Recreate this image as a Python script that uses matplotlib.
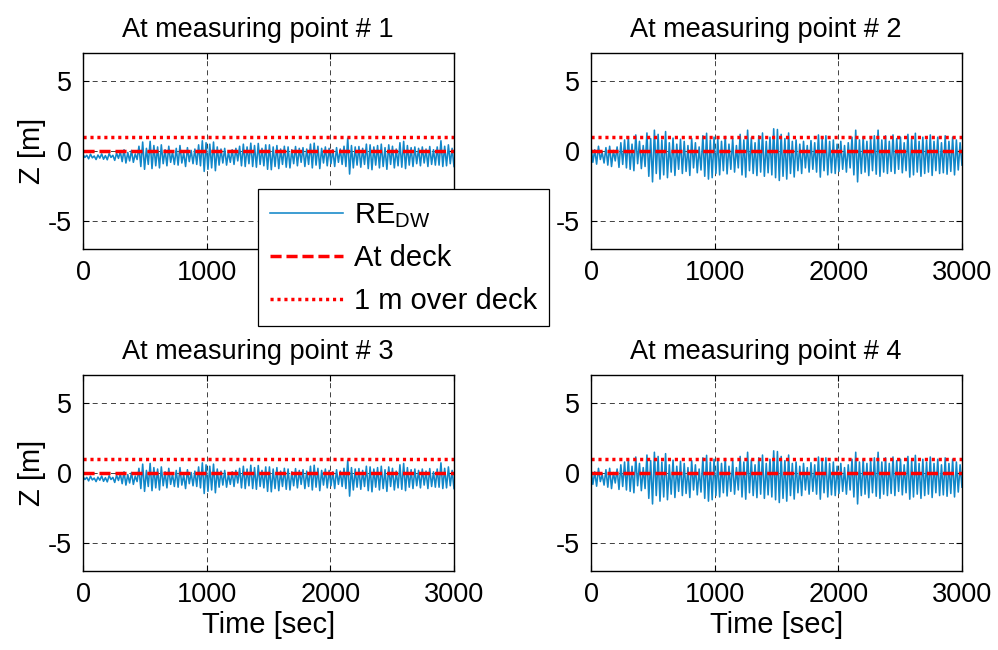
import numpy as np
import matplotlib.pyplot as plt

plt.rcParams['font.family'] = ['Liberation Sans', 'DejaVu Sans']
plt.rcParams['mathtext.fontset'] = 'custom'
plt.rcParams['mathtext.rm'] = 'Liberation Sans'
plt.rcParams['mathtext.it'] = 'Liberation Sans'
plt.rcParams['axes.unicode_minus'] = False

# relative elevation, points 1 and 3 (~15 s apart)
z_a = [
    -0.25, -0.45, -0.30, -0.55, -0.22, -0.48, -0.35, -0.60, -0.28, -0.50,
    -0.20, -0.58, -0.32, -0.62, -0.18, -0.45, -0.30, -0.66, -0.15, -0.52,
    -0.05, -0.75, 0.10, -0.85, -0.10, -0.70, 0.05, -0.80, -0.20, -0.60,
    0.35, -1.10, 0.65, -1.30, 0.20, -0.95, 0.70, -1.25, 0.40, -1.05,
    0.30, -1.20, 0.45, -0.90, 0.10, -1.05, 0.35, -0.80, -0.05, -0.95,
    0.20, -1.00, 0.40, -0.85, -0.10, -1.10, 0.25, -0.75, 0.05, -0.90,
    0.15, -0.95, 0.45, -1.05, 0.74, -1.45, 0.60, -1.30, 0.50, -1.20,
    0.65, -1.40, 0.30, -1.00, 0.15, -0.85, 0.20, -1.00, -0.05, -0.80,
    0.10, -0.95, 0.20, -0.70, 0.35, -1.05, 0.50, -1.10, 0.30, -0.90,
    0.57, -1.10, 0.40, -1.15, 0.55, -0.95, 0.20, -1.05, 0.45, -1.30,
    0.45, -1.33, 0.30, -1.10, 0.40, -1.25, 0.15, -0.95, 0.35, -1.15,
    0.30, -1.20, 0.10, -0.90, 0.33, -1.05, 0.20, -0.80, 0.25, -1.10,
    0.15, -0.95, 0.50, -1.20, 0.57, -1.00, 0.35, -1.25, 0.20, -0.85,
    0.30, -1.05, 0.20, -0.90, 0.10, -1.10, 0.25, -0.80, 0.15, -0.95,
    0.35, -1.10, 0.93, -1.64, 0.40, -1.20, 0.30, -1.00, 0.33, -1.15,
    0.20, -0.95, 0.50, -1.25, 0.45, -1.33, 0.30, -1.00, 0.40, -1.20,
    0.50, -1.10, 0.25, -1.30, 0.45, -0.95, 0.35, -1.20, 0.15, -1.05,
    0.60, -1.15, 0.70, -1.25, 0.40, -1.00, 0.25, -1.10, 0.30, -0.90,
    0.20, -1.05, 0.30, -0.85, 0.15, -1.10, 0.33, -0.95, 0.10, -1.00,
    0.30, -1.00, 0.74, -1.10, 0.35, -1.05, 0.45, -0.90, 0.20, -1.10,
]

# relative elevation, points 2 and 4
z_b = [
    0.30, -0.80, 0.10, -0.93, 0.35, -0.60, -0.10, -0.85, 0.25, -1.00,
    0.35, -1.10, 0.05, -0.70, 0.30, -1.16, 0.60, -0.95, 0.80, -1.20,
    1.00, -1.30, 0.50, -1.40, 1.16, -0.90, 0.70, -1.25, 0.40, -1.10,
    1.30, -1.80, 0.90, -2.20, 1.50, -1.60, 1.20, -2.00, 0.80, -1.70,
    1.40, -1.90, 0.60, -1.50, 0.93, -1.74, 0.50, -1.30, 0.85, -1.60,
    0.70, -1.45, 0.40, -1.74, 0.90, -1.20, 0.60, -1.55, 0.30, -1.35,
    1.10, -1.80, 1.28, -2.00, 0.80, -1.90, 1.00, -1.60, 0.90, -1.70,
    0.70, -1.40, 1.05, -1.63, 0.50, -1.30, 0.90, -1.50, 0.40, -1.20,
    1.20, -1.70, 0.80, -1.86, 1.50, -1.40, 0.95, -1.60, 0.60, -1.75,
    1.10, -1.50, 1.30, -1.80, 0.70, -1.55, 1.00, -1.70, 1.60, -1.90,
    1.55, -2.10, 1.20, -1.80, 0.90, -2.00, 1.30, -1.60, 0.70, -1.85,
    0.80, -1.40, 0.50, -1.60, 0.70, -1.20, 0.40, -1.50, 0.75, -1.30,
    0.60, -1.50, 1.16, -1.86, 0.90, -1.40, 1.10, -1.70, 0.70, -1.55,
    0.80, -1.60, 0.50, -1.45, 0.70, -1.30, 0.40, -1.50, 0.60, -1.20,
    1.00, -1.70, 1.50, -2.20, 0.80, -1.60, 1.00, -1.50, 0.70, -1.75,
    0.90, -1.40, 1.10, -1.65, 1.50, -1.80, 0.80, -1.50, 1.10, -1.60,
    0.70, -1.45, 1.16, -1.60, 0.90, -1.30, 1.00, -1.55, 0.60, -1.40,
    1.20, -1.86, 0.90, -1.70, 1.28, -1.50, 0.70, -1.80, 1.00, -1.60,
    0.80, -1.50, 1.16, -1.74, 0.70, -1.40, 1.00, -1.60, 0.60, -1.55,
    1.10, -1.65, 0.70, -1.45, 1.00, -1.70, 0.80, -1.35, 0.60, -1.00,
]

t_end = 3000
deck = 0.0
over_deck = 1.0
series = [z_a, z_b, z_a, z_b]
titles = ["At measuring point # 1", "At measuring point # 2",
          "At measuring point # 3", "At measuring point # 4"]

fig = plt.figure(figsize=(9.98, 6.5), dpi=100)
boxes = [
    [0.0832, 0.617, 0.3717, 0.301],
    [0.5922, 0.617, 0.3717, 0.301],
    [0.0832, 0.1215, 0.3717, 0.301],
    [0.5922, 0.1215, 0.3717, 0.301],
]

fs = 19.5
fs_lab = 21
for i in range(4):
    ax = fig.add_axes(boxes[i])
    z = series[i]
    t = np.linspace(0, t_end, len(z))
    l1, = ax.plot(t, z, color='#1187c9', lw=1.15, label=r'RE$_{\mathrm{DW}}$')
    l2, = ax.plot([0, t_end], [deck, deck], color='red', lw=2.5,
                  linestyle=(0, (3.2, 1.4)), label='At deck')
    l3, = ax.plot([0, t_end], [over_deck, over_deck], color='red', lw=2.5,
                  linestyle=(0, (0.9, 1.1)), label='1 m over deck')
    ax.set_xlim(0, t_end)
    ax.set_ylim(-7, 7)
    ax.set_xticks([0, 1000, 2000, 3000])
    ax.set_yticks([-5, 0, 5])
    ax.grid(True, color='#222222', lw=0.6, linestyle=(0, (6, 5)))
    ax.set_axisbelow(True)
    ax.tick_params(direction='in', length=4, labelsize=fs, top=True, right=True, pad=8)
    for s in ax.spines.values():
        s.set_linewidth(1.0)
    ax.set_title(titles[i], fontsize=fs, pad=12, x=0.472)
    if i % 2 == 0:
        ax.set_ylabel('Z [m]', fontsize=fs_lab, labelpad=1)
    if i >= 2:
        ax.set_xlabel('Time [sec]', fontsize=fs_lab, labelpad=2)

leg = fig.legend([l1, l2, l3], [l1.get_label(), l2.get_label(), l3.get_label()],
                 loc='upper left', bbox_to_anchor=(0.2585, 0.709), fontsize=21,
                 handlelength=2.5, fancybox=False, framealpha=1, edgecolor='k',
                 borderpad=0.4, labelspacing=0.5, handletextpad=0.4,
                 borderaxespad=0)
leg.get_frame().set_linewidth(0.9)

fig.savefig('out.png', dpi=100)
